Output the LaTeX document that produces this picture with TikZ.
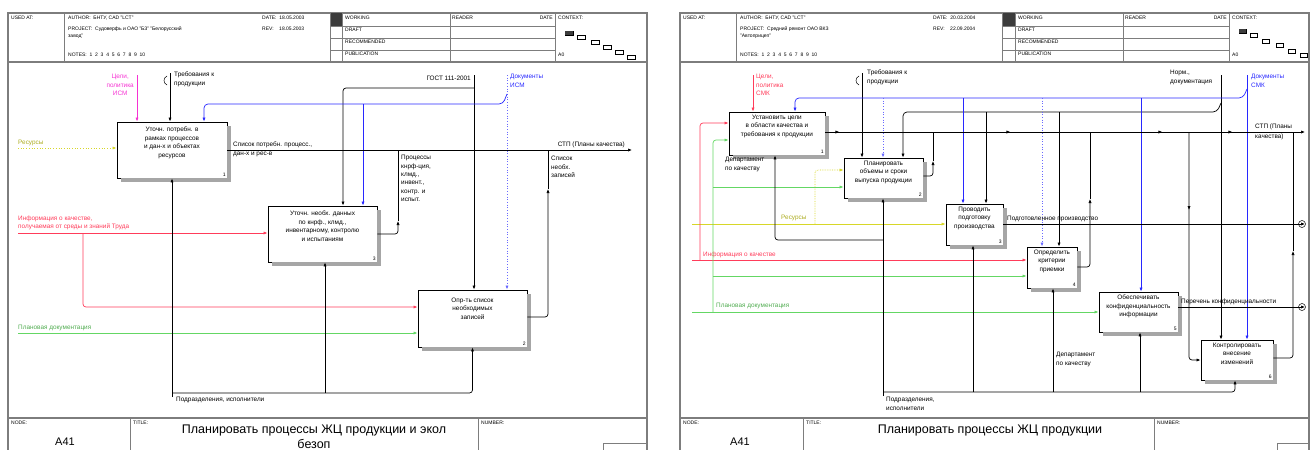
\documentclass[tikz,border=0pt]{standalone}
\usepackage{fontspec}
\setmainfont{Liberation Sans}
\usepackage{tikz}
\usetikzlibrary{arrows.meta, positioning, calc, decorations.markings}
\definecolor{idefred}{RGB}{255,60,90}
\definecolor{idefpink}{RGB}{245,50,210}
\definecolor{idefblue}{RGB}{40,40,255}
\definecolor{idefyellow}{RGB}{215,215,40}
\definecolor{idefgreen}{RGB}{100,215,100}
\definecolor{framegray}{RGB}{125,125,125}
\definecolor{darkcell}{RGB}{60,60,60}
\tikzset{
  fn/.style={rectangle, draw=black, line width=0.9pt, fill=white, inner sep=0pt},
  fntext/.style={font=\fontsize{6.4}{8.6}\selectfont, align=center, inner sep=0pt},
  arr/.style={-{Latex[length=4pt,width=3.2pt]}, line width=0.7pt},
  lbl/.style={font=\fontsize{6.4}{8.4}\selectfont, inner sep=0pt, align=left},
  hdr/.style={font=\fontsize{5}{6.4}\selectfont, inner sep=0pt, anchor=north west, align=left},
  num/.style={font=\fontsize{5}{5}\selectfont, anchor=south east, inner sep=1.5pt},
  frm/.style={draw=framegray, line width=1.1pt},
  cell/.style={draw=framegray, line width=0.7pt},
  ctxbox/.style={draw, line width=0.5pt, fill=white},
  shade/.style={fill=black!35}
}
% shadow strips on the right and bottom of a function box
\newcommand{\fnshade}[1]{%
  \fill[shade] ($(#1.north east)+(0,4)$) rectangle ($(#1.south east)+(4,4)$);
  \fill[shade] ($(#1.south west)+(4,0)$) rectangle ($(#1.south east)+(4,4)$);}

\begin{document}
\begin{tikzpicture}[x=1pt, y=-1pt]
\useasboundingbox (0,0) rectangle (1310,450);

%--- LEFT sheet: frame, header, footer ---
\draw[frm] (8,455) -- (8,13) -- (647,13) -- (647,455);
\draw[frm] (8,62) -- (647,62);
\draw[frm] (8,418) -- (647,418);
\fill[darkcell] (330,13) rectangle (342,26);
\foreach \cx in {64,330,342,450,555} \draw[cell] (\cx,13) -- (\cx,62);
\foreach \cy in {26,38,50} \draw[cell] (330,\cy) -- (555,\cy);
\draw[cell] (130,418) -- (130,455);
\draw[cell] (478,418) -- (478,455);
\draw[cell] (603,443) rectangle (647,455);
\node[hdr] at (11,16) {USED AT:};
\node[hdr] at (68,16) {AUTHOR:\ \ БНТУ, CAD "LCT"};
\node[hdr] at (68,27) {PROJECT:\ \ Судоверфь и ОАО "БЗ" "Белорусский\\завод"};
\node[hdr] at (68,53) {NOTES:\ \ 1\ \ 2\ \ 3\ \ 4\ \ 5\ \ 6\ \ 7\ \ 8\ \ 9\ \ 10};
\node[hdr] at (262,16) {DATE:\ \ 18.05.2003};
\node[hdr] at (262,27) {REV:\ \ \ \ 18.05.2003};
\node[hdr] at (345,16) {WORKING};
\node[hdr] at (345,28) {DRAFT};
\node[hdr] at (345,40) {RECOMMENDED};
\node[hdr] at (345,52) {PUBLICATION};
\node[hdr] at (452,16) {READER};
\node[hdr, anchor=north east] at (553,16) {DATE};
\node[hdr] at (558,16) {CONTEXT:};
\node[hdr] at (558,53) {A0};
\foreach \cx/\cy in {565/31,577/35,591/40,603/45,615/50,627/55}
  \draw[ctxbox] (\cx,\cy) rectangle ++(8,4);
\fill[darkcell] (565,31) rectangle ++(8,4);
\node[hdr] at (11,421) {NODE:};
\node[font=\fontsize{11}{11}\selectfont] at (65,442) {A41};
\node[hdr] at (133,421) {TITLE:};
\node[font=\fontsize{12.5}{15}\selectfont, align=center, anchor=north] at (314,421)
  {Планировать процессы ЖЦ продукции и экол\\безоп};
\node[hdr] at (481,421) {NUMBER:};

%--- LEFT sheet: function boxes ---
\node[fn, minimum width=110pt, minimum height=56pt] (lf1) at (172,150) {};
\fnshade{lf1}
\node[fntext, below=5pt of lf1.north] {Уточн. потребн. в\\рамках процессов\\и дан-х и объектах\\ресурсов};
\node[num] at (lf1.south east) {1};
\node[fn, minimum width=109pt, minimum height=56pt] (lf3) at (322.5,234) {};
\fnshade{lf3}
\node[fntext, below=5pt of lf3.north] {Уточн. необх. данных\\по кнрф., клмд.,\\инвентарному, контролю\\и испытаниям};
\node[num] at (lf3.south east) {3};
\node[fn, minimum width=109pt, minimum height=57pt] (lf2) at (472.5,318.5) {};
\fnshade{lf2}
\node[fntext, below=8pt of lf2.north] {Опр-ть список\\необходимых\\записей};
\node[num] at (lf2.south east) {2};

%--- LEFT sheet: controls ---
\coordinate (lgoal) at (137,75);
\draw[arr, idefpink] (lgoal) -- (lgoal |- lf1.north);
\node[lbl, idefpink, anchor=north east, align=center] at (134,74) {Цели,\\политика\\ИСМ};
\coordinate (lreq) at (170,73);
\draw[arr] (lreq) -- (lreq |- lf1.north);
\draw[line width=0.5pt] (167,76) .. controls (163,78) and (163,83) .. (167,85);
\node[lbl, anchor=north west] at (174,72) {Требования к\\продукции};
\coordinate (lgost) at (474,75);
\draw[arr] (lgost) -- (lgost |- lf2.north);
\draw[arr, rounded corners=3pt] (474,88) -| (343,0 |- lf3.north);
\node[lbl, anchor=north east] at (471,76) {ГОСТ 111-2001};
\coordinate (ldoc) at (507,75);
\draw[arr, idefblue!70, dotted, line width=0.8pt] (ldoc) -- (ldoc |- lf2.north);
\draw[arr, idefblue, rounded corners=4pt] (507,94) -- (503,104) -| (204,0 |- lf1.north);
\draw[arr, idefblue] (363,104) -- (363,0 |- lf3.north);
\node[lbl, idefblue, anchor=north west] at (510,74) {Документы\\ИСМ};

%--- LEFT sheet: inputs ---
\coordinate (lres) at (18,148);
\draw[arr, idefyellow, dotted, line width=0.9pt] (lres) -- (lres -| lf1.west);
\node[lbl, idefyellow!80!black, anchor=south west] at (18,146) {Ресурсы};
\coordinate (linfo) at (18,233);
\draw[arr, idefred] (linfo) -- (linfo -| lf3.west);
\draw[arr, idefred, rounded corners=3pt] (83,233) |- (lf2.west |- 0,307);
\node[lbl, idefred, anchor=south west] at (18,230) {Информация о качестве,\\получаемая от среды и знаний Труда};
\coordinate (lplan) at (18,333);
\draw[arr, idefgreen] (lplan) -- (lplan -| lf2.west);
\node[lbl, idefgreen!80!black, anchor=south west] at (18,331) {Плановая документация};

%--- LEFT sheet: outputs ---
\coordinate (lout) at (632,150);
\draw[arr] (lf1.east) -- (lout);
\node[lbl, anchor=south west] at (233,148) {Список потребн. процесс.,};
\node[lbl, anchor=north west] at (233,152) {дан-х и рес-в};
\node[lbl, anchor=south east] at (625,148) {СТП (Планы качества)};
\draw[arr, rounded corners=3pt] (lf3.east) -| (398,221);
\draw[rounded corners=3pt] (398,221) -- (398,150);
\node[lbl, anchor=north west] at (401,155) {Процессы\\кнрф-ция,\\клмд.,\\инвент.,\\контр. и\\испыт.};
\draw[arr, rounded corners=3pt] (lf2.east |- 0,317) -| (548,189);
\draw (548,189) -- (548,150);
\node[lbl, anchor=north west] at (551,156) {Список\\необх.\\записей};

%--- LEFT sheet: mechanisms ---
\coordinate (lmech) at (172,397);
\draw[arr] (lmech) -- (lf1.south);
\draw[arr, rounded corners=3pt] (172,393) -| (lf2.south);
\draw[arr] (325,393) -- (325,0 |- lf3.south);
\node[lbl, anchor=north west] at (176,397) {Подразделения, исполнители};

%--- RIGHT sheet: frame, header, footer ---
\draw[frm] (680,455) -- (680,13) -- (1309,13) -- (1309,455);
\draw[frm] (680,62) -- (1309,62);
\draw[frm] (680,418) -- (1309,418);
\fill[darkcell] (1002,13) rectangle (1015,26);
\foreach \cx in {736,1002,1015,1123,1229} \draw[cell] (\cx,13) -- (\cx,62);
\foreach \cy in {26,38,50} \draw[cell] (1002,\cy) -- (1229,\cy);
\draw[cell] (803,418) -- (803,455);
\draw[cell] (1154,418) -- (1154,455);
\draw[cell] (1277,443) rectangle (1309,455);
\node[hdr] at (683,16) {USED AT:};
\node[hdr] at (740,16) {AUTHOR:\ \ БНТУ, CAD "LCT"};
\node[hdr] at (740,27) {PROJECT:\ \ Средний ремонт ОАО ВКЗ\\"Автоприцеп"};
\node[hdr] at (740,53) {NOTES:\ \ 1\ \ 2\ \ 3\ \ 4\ \ 5\ \ 6\ \ 7\ \ 8\ \ 9\ \ 10};
\node[hdr] at (933,16) {DATE:\ \ 20.03.2004};
\node[hdr] at (933,27) {REV:\ \ \ \ 22.09.2004};
\node[hdr] at (1018,16) {WORKING};
\node[hdr] at (1018,28) {DRAFT};
\node[hdr] at (1018,40) {RECOMMENDED};
\node[hdr] at (1018,52) {PUBLICATION};
\node[hdr] at (1125,16) {READER};
\node[hdr, anchor=north east] at (1227,16) {DATE};
\node[hdr] at (1232,16) {CONTEXT:};
\node[hdr] at (1232,53) {A0};
\foreach \cx/\cy in {1239/29,1250/33,1262/39,1276/43,1288/49,1300/53}
  \draw[ctxbox] (\cx,\cy) rectangle ++(7,4);
\fill[darkcell] (1239,29) rectangle ++(7,4);
\node[hdr] at (683,421) {NODE:};
\node[font=\fontsize{11}{11}\selectfont] at (740,442) {A41};
\node[hdr] at (806,421) {TITLE:};
\node[font=\fontsize{12.5}{15}\selectfont, anchor=north] at (990,421) {Планировать процессы ЖЦ продукции};
\node[hdr] at (1157,421) {NUMBER:};

%--- RIGHT sheet: function boxes ---
\node[fn, minimum width=96pt, minimum height=43pt] (rf1) at (777,133.5) {};
\fnshade{rf1}
\node[fntext, below=3pt of rf1.north] {Установить цели\\в области качества и\\требования к продукции};
\node[num] at (rf1.south east) {1};
\node[fn, minimum width=79pt, minimum height=40pt] (rf2) at (883.5,178) {};
\fnshade{rf2}
\node[fntext, below=3pt of rf2.north] {Планировать\\объемы и сроки\\выпуска продукции};
\node[num] at (rf2.south east) {2};
\node[fn, minimum width=57pt, minimum height=41pt] (rf3) at (974.5,224.5) {};
\fnshade{rf3}
\node[fntext, below=3pt of rf3.north] {Проводить\\подготовку\\производства};
\node[num] at (rf3.south east) {3};
\node[fn, minimum width=50pt, minimum height=41pt] (rf4) at (1052,267.5) {};
\fnshade{rf4}
\node[fntext, below=3pt of rf4.north] {Определить\\критерии\\приемки};
\node[num] at (rf4.south east) {4};
\node[fn, minimum width=79pt, minimum height=40pt] (rf5) at (1138.5,312) {};
\fnshade{rf5}
\node[fntext, below=3pt of rf5.north] {Обеспечивать\\конфиденциальность\\информации};
\node[num] at (rf5.south east) {5};
\node[fn, minimum width=72pt, minimum height=40pt] (rf6) at (1237,360) {};
\fnshade{rf6}
\node[fntext, below=3pt of rf6.north] {Контролировать\\внесение\\изменений};
\node[num] at (rf6.south east) {6};

%--- RIGHT sheet: controls ---
\coordinate (rgoal) at (753,75);
\draw[arr, idefred] (rgoal) -- (rgoal |- rf1.north);
\node[lbl, idefred, anchor=north west] at (756,74) {Цели,\\политика\\СМК};
\coordinate (rreq) at (862,73);
\draw[arr] (rreq) -- (rreq |- rf2.north);
\draw[line width=0.5pt] (859,76) .. controls (855,78) and (855,83) .. (859,85);
\node[lbl, anchor=north west] at (867,70) {Требования к\\продукции};
\coordinate (rnorm) at (1221,75);
\draw[arr] (rnorm) -- (rnorm |- rf6.north);
\draw[arr, rounded corners=4pt] (1221,103) -- (1217,112) -| (903,0 |- rf2.north);
\draw[arr] (986,112) -- (986,0 |- rf3.north);
\draw[arr] (1059,112) -- (1059,0 |- rf4.north);
\node[lbl, anchor=north west] at (1170,70) {Норм.,\\документация};
\coordinate (rdoc) at (1247,75);
\draw[arr, idefblue] (rdoc) -- (rdoc |- rf6.north);
\draw[arr, idefblue, rounded corners=4pt] (1247,89) -- (1243,98) -| (795,0 |- rf1.north);
\draw[arr, idefblue!70, dotted, line width=0.8pt] (883,98) -- (883,0 |- rf2.north);
\draw[arr, idefblue] (963,98) -- (963,0 |- rf3.north);
\draw[arr, idefblue!70, dotted, line width=0.8pt] (1042,98) -- (1042,0 |- rf4.north);
\draw[arr, idefblue] (1141,98) -- (1141,0 |- rf5.north);
\node[lbl, idefblue, anchor=north west] at (1251,74) {Документы\\СМК};

%--- RIGHT sheet: inputs ---
\coordinate (rres) at (692,224);
\draw[arr, idefyellow] (rres) -- (rres -| rf3.west);
\draw[arr, idefyellow, densely dotted, rounded corners=3pt] (815,224) |- (rf2.west |- 0,170);
\node[lbl, idefyellow!80!black, anchor=south west] at (781,221) {Ресурсы};
\coordinate (rinfo) at (692,260);
\draw[arr, idefred] (rinfo) -- (rinfo -| rf4.west);
\draw[arr, idefred, rounded corners=3pt] (700,260) |- (rf1.west |- 0,123);
\node[lbl, idefred, anchor=south west] at (703,258) {Информация о качестве};
\coordinate (rplan) at (692,312);
\draw[arr, idefgreen] (rplan) -- (rplan -| rf5.west);
\draw[arr, idefgreen, rounded corners=3pt] (713,312) |- (rf1.west |- 0,140);
\draw[arr, idefgreen] (713,187) -- (rf2.west |- 0,187);
\draw[arr, idefgreen] (713,276) -- (rf4.west |- 0,276);
\node[lbl, idefgreen!80!black, anchor=south west] at (716,309) {Плановая документация};

%--- RIGHT sheet: outputs ---
\coordinate (rout) at (1305,132);
\draw[arr, postaction={decorate}, decoration={markings,
    mark=at position 14pt with {\arrow{Latex[length=4pt,width=3.2pt]}},
    mark=at position 185pt with {\arrow{Latex[length=4pt,width=3.2pt]}},
    mark=at position 337pt with {\arrow{Latex[length=4pt,width=3.2pt]}},
    mark=at position 407pt with {\arrow{Latex[length=4pt,width=3.2pt]}}}]
  (rf1.east |- rout) -- (rout);
\node[lbl, anchor=south west] at (1255,130) {СТП (Планы};
\node[lbl, anchor=north west] at (1255,134) {качества)};
\draw[arr, rounded corners=3pt] (rf2.east |- 0,176) -| (933,161);
\draw (933,161) -- (933,132);
\draw[arr, rounded corners=3pt] (rf4.east |- 0,267) -| (1090,199);
\draw (1090,199) -- (1090,132);
\draw[arr, rounded corners=3pt] (rf6.east |- 0,358) -| (1293,251);
\draw (1293,251) -- (1293,132);
\draw[arr, rounded corners=3pt, postaction={decorate}, decoration={markings,
    mark=at position 78pt with {\arrow{Latex[length=4pt,width=3.2pt]}}}]
  (1189,132) |- (rf6.west |- 0,360);
\coordinate (rprod) at (1305,224);
\draw[arr] (rf3.east |- rprod) -- (rprod);
\draw[line width=0.5pt] (1302,224) circle (3.5pt);
\node[lbl, anchor=south west] at (1007,222) {Подготовленное производство};
\coordinate (rconf) at (1305,307);
\draw[arr] (rf5.east |- rconf) -- (rconf);
\draw[line width=0.5pt] (1302,307) circle (3.5pt);
\node[lbl, anchor=south west] at (1181,305) {Перечень конфиденциальности};

%--- RIGHT sheet: mechanisms ---
\coordinate (rmech) at (883,396);
\draw[arr] (rmech) -- (rmech |- rf2.south);
\draw[arr, rounded corners=3pt] (883,392) -| (1235,0 |- rf6.south);
\draw[arr] (973,392) -- (973,0 |- rf3.south);
\draw[arr] (1053,392) -- (1053,0 |- rf4.south);
\draw[arr] (1140,392) -- (1140,0 |- rf5.south);
\draw[arr, rounded corners=3pt] (883,240) -| (775,0 |- rf1.south);
\node[lbl, anchor=north west] at (886,397) {Подразделения,\\исполнители};
\node[lbl, anchor=north west] at (725,157) {Департамент\\по качеству};
\node[lbl, anchor=north west] at (1056,352) {Департамент\\по качеству};
\end{tikzpicture}
\end{document}
